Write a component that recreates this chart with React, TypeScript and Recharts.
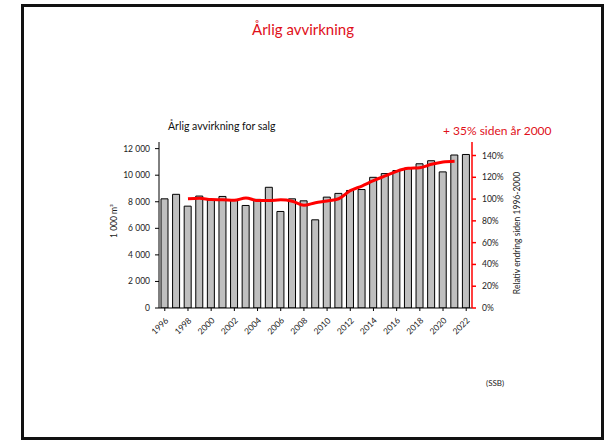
import React from "react";
import { ComposedChart, Bar, Line, XAxis, YAxis } from "recharts";

const years = [
  "1996", "1997", "1998", "1999", "2000", "2001", "2002", "2003", "2004",
  "2005", "2006", "2007", "2008", "2009", "2010", "2011", "2012", "2013",
  "2014", "2015", "2016", "2017", "2018", "2019", "2020", "2021", "2022",
];

// 1 000 m3 sold per year
const harvest = [
  8220, 8560, 7670, 8430, 8130, 8400, 8100, 7720, 8180, 9090, 7270, 8220, 8070,
  6640, 8350, 8630, 8850, 8920, 9840, 10120, 10350, 10530, 10860, 11090, 10250,
  11520, 11560,
];

// relative change vs 1996-2000 (%), 1998..2021
const relStartYear = "1998";
const relative = [
  100.2, 100.7, 99.5, 99.3, 98.9, 101.1, 98.6, 98.6, 99.3, 98.0, 94.3, 96.7,
  98.2, 100.3, 107.7, 112.0, 116.9, 121.2, 125.5, 128.2, 128.8, 131.9, 134.0,
  134.7,
];

const leftTicks = [0, 2000, 4000, 6000, 8000, 10000, 12000];
const rightTicks = [0, 20, 40, 60, 80, 100, 120, 140];

const FONT = "Lato, 'Open Sans', sans-serif";
const RED = "#ff0000";

const startIdx = years.indexOf(relStartYear);
const data = years.map((year, i) => {
  const r = i - startIdx;
  return {
    year,
    harvest: harvest[i],
    relative: r >= 0 && r < relative.length ? relative[r] : null,
  };
});

const fmtThousands = (v: number) =>
  v >= 1000 ? `${Math.floor(v / 1000)} ${String(v % 1000).padStart(3, "0")}` : String(v);

const XTick = (props: any) => {
  const { x, y, payload } = props;
  const ax = x + 2;
  const ay = y + 6;
  return (
    <text
      x={ax}
      y={ay}
      transform={`rotate(-45 ${ax} ${ay})`}
      textAnchor="end"
      dominantBaseline="central"
      fontSize={8.5}
      fontFamily={FONT}
      fill="#222"
    >
      {payload.value}
    </text>
  );
};

export default function App() {
  return (
    <div style={{ position: "absolute", left: 0, top: 0, width: 606, height: 440, background: "#fff", fontFamily: FONT }}>
      <div
        style={{
          position: "absolute",
          left: 21,
          top: 4,
          width: 583,
          height: 436,
          border: "3px solid #111",
          boxSizing: "border-box",
        }}
      />
      <div style={{ position: "absolute", left: 0, width: 606, top: 20, textAlign: "center", fontSize: 15, color: "#e0101a" }}>
        Årlig avvirkning
      </div>
      <div style={{ position: "absolute", left: 168, top: 120, fontSize: 10.5, color: "#111" }}>
        Årlig avvirkning for salg
      </div>
      <div style={{ position: "absolute", left: 443, top: 123, fontSize: 12, color: "#e0101a" }}>
        + 35% siden år 2000
      </div>
      <div
        style={{
          position: "absolute",
          left: 114,
          top: 221,
          fontSize: 8.5,
          color: "#222",
          transform: "translate(-50%, -50%) rotate(-90deg)",
          whiteSpace: "nowrap",
        }}
      >
        1 000 m³
      </div>
      <div
        style={{
          position: "absolute",
          left: 517,
          top: 233,
          fontSize: 8.5,
          color: "#222",
          transform: "translate(-50%, -50%) rotate(-90deg)",
          whiteSpace: "nowrap",
        }}
      >
        Relativ endring siden 1996-2000
      </div>
      <div style={{ position: "absolute", left: 486, top: 378, fontSize: 8, color: "#222" }}>
        (SSB)
      </div>

      <div style={{ position: "absolute", left: 0, top: 0 }}>
        <ComposedChart
          width={606}
          height={440}
          data={data}
          margin={{ top: 142, left: 100, right: 84, bottom: 92 }}
          barCategoryGap={0}
        >
          <XAxis
            dataKey="year"
            interval={1}
            height={40}
            tick={<XTick />}
            tickSize={3}
            stroke="#000"
            axisLine={{ stroke: "#000" }}
            tickLine={{ stroke: "#000" }}
          />
          <YAxis
            yAxisId="left"
            width={59}
            domain={[0, 12500]}
            ticks={leftTicks}
            tickFormatter={fmtThousands}
            tickSize={4}
            tickMargin={5}
            stroke="#000"
            tick={{ fontSize: 8.5, fontFamily: FONT, fill: "#222" }}
            allowDataOverflow
          />
          <YAxis
            yAxisId="right"
            orientation="right"
            width={50}
            domain={[0, 152.4]}
            ticks={rightTicks}
            tickFormatter={(v: number) => `${v}%`}
            tickSize={4}
            tickMargin={6}
            axisLine={{ stroke: RED, strokeWidth: 1.5 }}
            tickLine={{ stroke: RED, strokeWidth: 1.5 }}
            tick={{ fontSize: 8.5, fontFamily: FONT, fill: "#222", textAnchor: "start" }}
            allowDataOverflow
          />
          <Bar
            yAxisId="left"
            dataKey="harvest"
            fill="#bfbfbf"
            stroke="#000"
            strokeWidth={1}
            barSize={7}
            isAnimationActive={false}
          />
          <Line
            yAxisId="right"
            dataKey="relative"
            type="monotone"
            stroke={RED}
            strokeWidth={3}
            dot={false}
            activeDot={false}
            connectNulls={false}
            isAnimationActive={false}
          />
        </ComposedChart>
      </div>
    </div>
  );
}
